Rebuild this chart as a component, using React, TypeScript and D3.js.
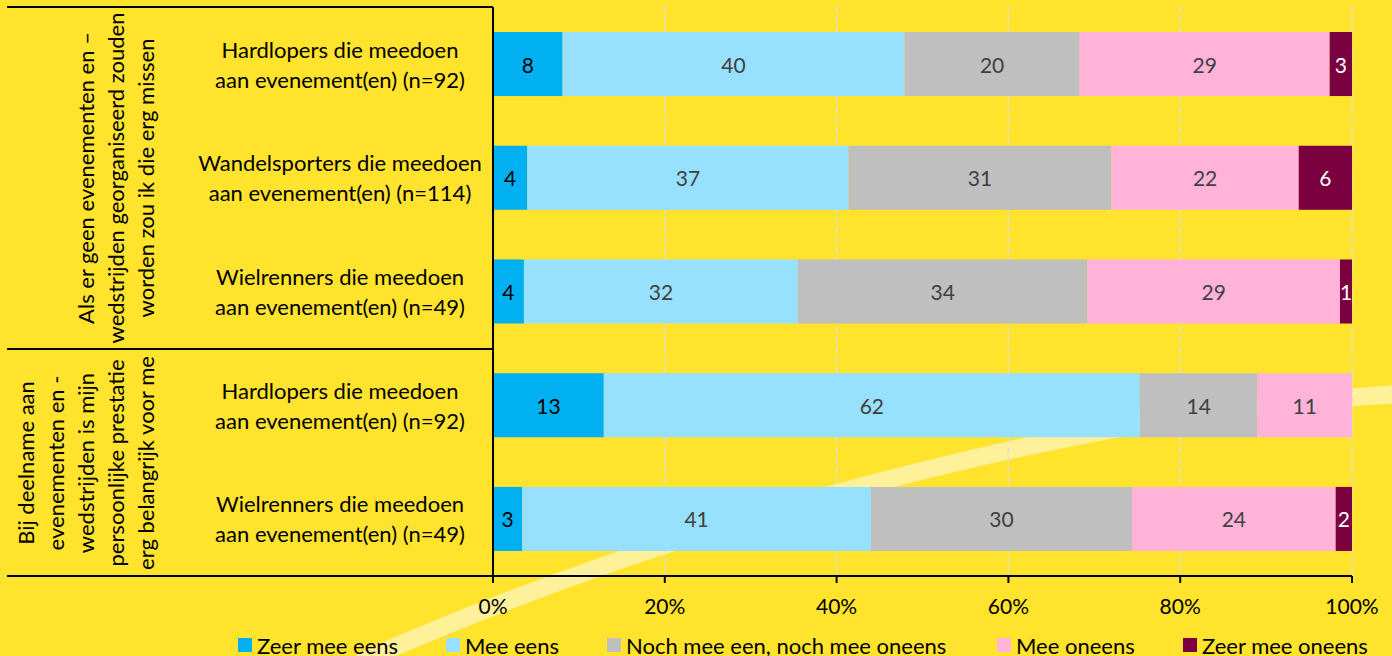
import * as React from 'react';
import * as d3 from 'd3';

const W = 1392;
const H = 656;

const categories = ['Zeer mee eens', 'Mee eens', 'Noch mee een, noch mee oneens', 'Mee oneens', 'Zeer mee oneens'];
const colors = ['#00B0F0', '#97E0FE', '#BFBFBF', '#FFB3D9', '#7A003F'];
const labelColors = ['#000000', '#404040', '#404040', '#404040', '#FFFFFF'];

const rowLabels = [
  ['Hardlopers die meedoen', 'aan evenement(en) (n=92)'],
  ['Wandelsporters die meedoen', 'aan evenement(en) (n=114)'],
  ['Wielrenners die meedoen', 'aan evenement(en) (n=49)'],
  ['Hardlopers die meedoen', 'aan evenement(en) (n=92)'],
  ['Wielrenners die meedoen', 'aan evenement(en) (n=49)'],
];

// percentages per row, in the order of categories
const row1 = [8.1, 39.8, 20.4, 29.1, 2.6];
const row2 = [4.0, 37.4, 30.6, 21.8, 6.2];
const row3 = [3.6, 31.9, 33.7, 29.4, 1.4];
const row4 = [12.9, 62.4, 13.7, 11.0, 0];
const row5 = [3.4, 40.6, 30.4, 23.7, 1.9];
const rows = [row1, row2, row3, row4, row5];

const group1 = ['Als er geen evenementen en –', 'wedstrijden georganiseerd zouden', 'worden zou ik die erg missen'];
const group2 = ['Bij deelname aan', 'evenementen en -', 'wedstrijden is mijn', 'persoonlijke prestatie', 'erg belangrijk voor me'];

const ticks = [0, 20, 40, 60, 80, 100];

const FONT = 'Lato, "Open Sans", sans-serif';

export default function App() {
  const svgRef = React.useRef<SVGSVGElement | null>(null);

  React.useEffect(() => {
    if (!svgRef.current) return;
    const svg = d3.select(svgRef.current);
    svg.selectAll('*').remove();

    const left = 493;
    const right = 1352;
    const top = 7;
    const bottom = 576;
    const panelLeft = 7;

    const x = d3.scaleLinear().domain([0, 100]).range([left, right]);
    const y = d3
      .scaleBand<number>()
      .domain(d3.range(rows.length))
      .range([top, bottom])
      .paddingInner(0.437)
      .paddingOuter(0.22);

    svg.append('rect').attr('width', W).attr('height', H).attr('fill', '#FFE32C');

    // decorative arc in the background
    svg
      .append('path')
      .attr('d', 'M360,662 C660,528 1070,412 1400,394')
      .attr('fill', 'none')
      .attr('stroke', '#FFF09A')
      .attr('stroke-width', 18);

    // gridlines
    svg
      .append('g')
      .selectAll('line')
      .data(ticks.filter((t) => t > 0))
      .join('line')
      .attr('x1', (d) => x(d))
      .attr('x2', (d) => x(d))
      .attr('y1', top)
      .attr('y2', bottom)
      .attr('stroke', '#DCDCDC')
      .attr('stroke-width', 1.5)
      .attr('stroke-dasharray', '6,4');

    // stacked bars
    const stackRows = rows.map((vals) => {
      let acc = 0;
      return vals.map((v, i) => {
        const s = { x0: acc, x1: acc + v, v, i };
        acc += v;
        return s;
      });
    });

    stackRows.forEach((segs, r) => {
      const g = svg.append('g');
      const bw = y.bandwidth();
      const y0 = y(r) as number;
      const visible = segs.filter((s) => s.v > 0);
      g.selectAll('rect')
        .data(visible)
        .join('rect')
        .attr('x', (d) => x(d.x0))
        .attr('y', y0)
        .attr('width', (d) => x(d.x1) - x(d.x0))
        .attr('height', bw)
        .attr('fill', (d) => colors[d.i]);
      g.selectAll('text')
        .data(visible)
        .join('text')
        .attr('x', (d) => (x(d.x0) + x(d.x1)) / 2)
        .attr('y', y0 + bw / 2)
        .attr('text-anchor', 'middle')
        .attr('dominant-baseline', 'central')
        .attr('font-family', FONT)
        .attr('font-size', 21)
        .attr('fill', (d) => labelColors[d.i])
        .text((d) => Math.round(d.v));
    });

    // left panel lines
    const lines = svg.append('g').attr('stroke', '#000').attr('stroke-width', 2);
    lines.append('line').attr('x1', panelLeft).attr('x2', left).attr('y1', top).attr('y2', top);
    lines.append('line').attr('x1', panelLeft).attr('x2', left).attr('y1', 349).attr('y2', 349);
    lines.append('line').attr('x1', panelLeft).attr('x2', right).attr('y1', bottom).attr('y2', bottom);
    lines.append('line').attr('x1', left).attr('x2', left).attr('y1', top).attr('y2', bottom + 7);

    // x ticks
    const tg = svg.append('g');
    tg.selectAll('line')
      .data(ticks)
      .join('line')
      .attr('x1', (d) => x(d))
      .attr('x2', (d) => x(d))
      .attr('y1', bottom)
      .attr('y2', bottom + 7)
      .attr('stroke', '#000')
      .attr('stroke-width', 2);
    tg.selectAll('text')
      .data(ticks)
      .join('text')
      .attr('x', (d) => x(d))
      .attr('y', 614)
      .attr('text-anchor', 'middle')
      .attr('font-family', FONT)
      .attr('font-size', 21)
      .attr('fill', '#000')
      .text((d) => `${d}%`);

    // row labels
    rowLabels.forEach((lbl, r) => {
      const cy = (y(r) as number) + y.bandwidth() / 2;
      svg
        .append('text')
        .attr('text-anchor', 'middle')
        .attr('font-family', FONT)
        .attr('font-size', 22)
        .attr('fill', '#000')
        .selectAll('tspan')
        .data(lbl)
        .join('tspan')
        .attr('x', 340)
        .attr('y', (_, i) => cy - 15 + i * 30)
        .attr('dominant-baseline', 'central')
        .text((d) => d);
    });

    // group labels (rotated)
    const drawGroup = (lbls: string[], cy: number, xs: number[]) => {
      lbls.forEach((t, i) => {
        svg
          .append('text')
          .attr('transform', `translate(${xs[i]},${cy}) rotate(-90)`)
          .attr('text-anchor', 'middle')
          .attr('dominant-baseline', 'central')
          .attr('font-family', FONT)
          .attr('font-size', 22)
          .attr('fill', '#000')
          .text(t);
      });
    };
    drawGroup(group1, 178, [85, 115, 145]);
    drawGroup(group2, 463, [25, 55, 85, 115, 145]);

    // legend
    const legendX = [238, 446, 607, 997, 1183];
    const lg = svg.append('g');
    categories.forEach((c, i) => {
      const g = lg.append('g').attr('transform', `translate(${legendX[i]},638)`);
      g.append('rect').attr('width', 14).attr('height', 14).attr('fill', colors[i]);
      g.append('text')
        .attr('x', 19)
        .attr('y', 7)
        .attr('dominant-baseline', 'central')
        .attr('font-family', FONT)
        .attr('font-size', 22)
        .attr('fill', '#000')
        .text(c);
    });
  }, []);

  return (
    <div style={{ position: 'fixed', left: 0, top: 0, width: W, height: H, overflow: 'hidden' }}>
      <svg ref={svgRef} width={W} height={H} style={{ display: 'block' }} />
    </div>
  );
}
